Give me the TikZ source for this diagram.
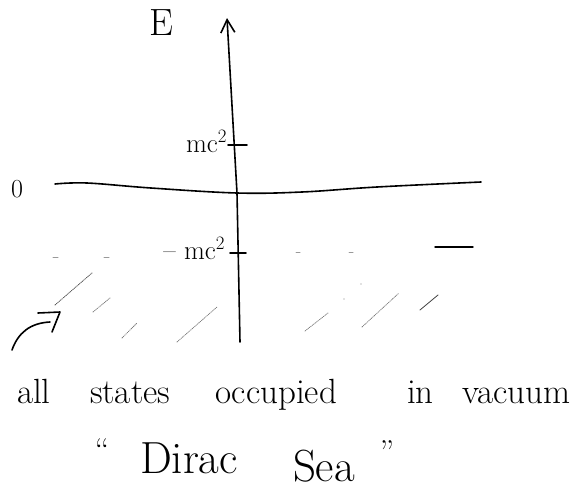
\documentclass[tikz,border=0pt]{standalone}
\usepackage{fontspec}
\usetikzlibrary{arrows.meta}
\tikzset{
  ink/.style={line width=1.6pt, line cap=round, line join=round, black},
  tickmark/.style={line width=1.8pt, line cap=round, black},
  hatch/.style={line width=0.8pt, gray, densely dotted, line cap=round},
  faint/.style={line width=1pt, gray!80, line cap=round},
  lbl/.style={inner sep=0pt, outer sep=0pt, anchor=base},
  capt/.style={lbl, anchor=base west, font=\fontsize{35}{38}\selectfont},
  captbig/.style={lbl, anchor=base west, font=\fontsize{45}{48}\selectfont},
}
\begin{document}
\begin{tikzpicture}[x=1pt, y=-1pt]
\useasboundingbox (0,0) rectangle (586,490);

% axes
\coordinate (ybot) at (240,342);
\coordinate (ymid) at (237,193);
\coordinate (ytop) at (227,18);
\draw[ink, -{Straight Barb[length=13pt,width=14pt,line width=1.6pt]}] (ybot) -- (ymid) -- (ytop);

\coordinate (hl) at (55,184);
\coordinate (hr) at (481,182);
\draw[ink] plot[smooth, tension=0.6] coordinates {(hl) (87,183) (151,188) (ymid) (302,192) (377,187) (hr)};

% ticks
\coordinate (t1a) at (228,145); \coordinate (t1b) at (247,145);
\coordinate (t2a) at (230,253); \coordinate (t2b) at (246,253);
\draw[tickmark] (t1a) -- (t1b);
\draw[tickmark] (t2a) -- (t2b);

% labels
\node[lbl, font=\fontsize{38}{40}\selectfont] (E) at (161,35) {E};
\node[lbl, anchor=base east, font=\fontsize{27}{30}\selectfont] (mc) at (227,152) {mc\textsuperscript{2}};
\node[lbl, anchor=base east, font=\fontsize{27}{30}\selectfont] (mmc) at (225,259) {-- mc\textsuperscript{2}};
\node[lbl, font=\fontsize{26}{28}\selectfont] (zero) at (17,197) {0};

% faint dashed level at -mc^2
\coordinate (d1a) at (53,257); \coordinate (d1b) at (58,257);
\coordinate (d2a) at (104,257); \coordinate (d2b) at (109,257);
\coordinate (d3a) at (296,252); \coordinate (d3b) at (300,252);
\coordinate (d4a) at (349,252); \coordinate (d4b) at (353,252);
\coordinate (d5a) at (435,247); \coordinate (d5b) at (473,247);
\draw[faint] (d1a) -- (d1b);
\draw[faint] (d2a) -- (d2b);
\draw[faint] (d3a) -- (d3b);
\draw[faint] (d4a) -- (d4b);
\draw[ink, line width=1.4pt] (d5a) -- (d5b);

% hatching (occupied states)
\coordinate (h1a) at (55,305);  \coordinate (h1b) at (92,273);
\coordinate (h2a) at (93,312);  \coordinate (h2b) at (110,298);
\coordinate (h3a) at (122,338); \coordinate (h3b) at (137,323);
\coordinate (h4a) at (177,342); \coordinate (h4b) at (217,307);
\coordinate (h5a) at (305,331); \coordinate (h5b) at (328,313);
\coordinate (h6a) at (362,327); \coordinate (h6b) at (399,293);
\coordinate (h7a) at (420,310); \coordinate (h7b) at (438,295);
\draw[hatch, gray!60!black] (h1a) -- (h1b);
\draw[hatch] (h2a) -- (h2b);
\draw[hatch] (h3a) -- (h3b);
\draw[hatch] (h4a) -- (h4b);
\draw[hatch] (h5a) -- (h5b);
\draw[hatch] (h6a) -- (h6b);
\draw[hatch, gray!50!black, solid] (h7a) -- (h7b);
\fill[gray] (361,284) circle (0.7pt) (344,299) circle (0.7pt);

% curved pointer arrow
\coordinate (cs) at (12,350);
\coordinate (ce) at (50,322);
\coordinate (k1) at (38,313);
\coordinate (k2) at (60,312);
\coordinate (k3) at (52,332);
\draw[ink] (cs) .. controls (18,333) and (30,323) .. (ce);
\draw[ink] (k1) -- (k2) -- (k3);

% caption
\node[capt] (w1) at (17,403) {all};
\node[capt] (w2) at (90,403) {states};
\node[capt] (w3) at (215,403) {occupied};
\node[capt] (w4) at (407,403) {in};
\node[capt] (w5) at (462,403) {vacuum};
\node[lbl, font=\fontsize{33}{36}\selectfont] (q1) at (102,461) {\textquotedblleft};
\node[captbig] (w6) at (140,473) {Dirac};
\node[captbig] (w7) at (293,481) {Sea};
\node[lbl, font=\fontsize{33}{36}\selectfont] (q2) at (387,463) {\textquotedblright};
\end{tikzpicture}
\end{document}
